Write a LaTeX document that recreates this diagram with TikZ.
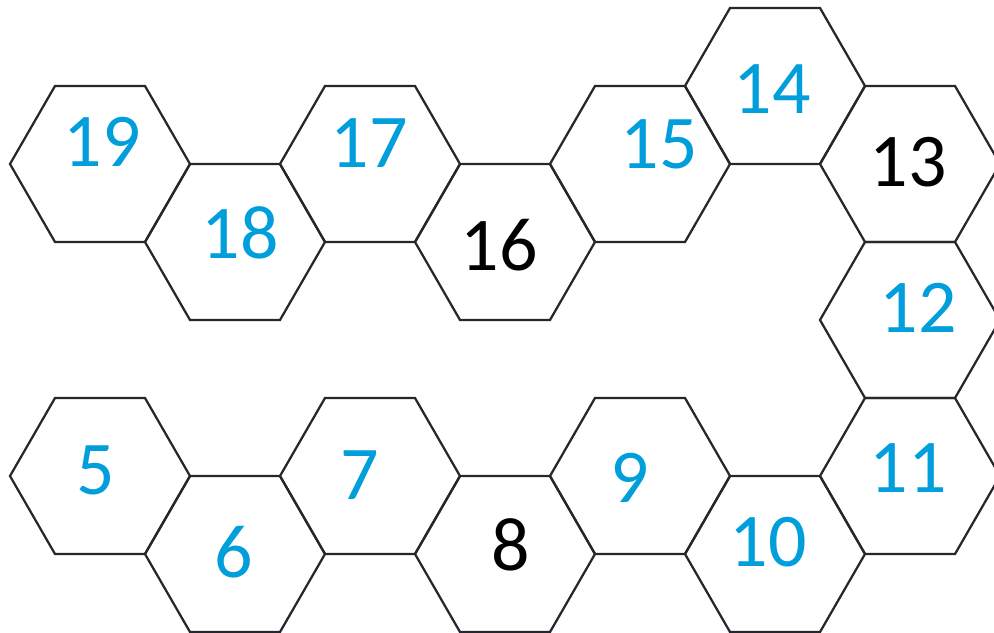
\documentclass[tikz,border=0pt]{standalone}
\usepackage{fontspec}
\setmainfont{Carlito}
\usetikzlibrary{calc}

\definecolor{numblue}{RGB}{0,158,219}
\definecolor{edgegray}{RGB}{38,38,44}

\tikzset{
  cell/.style = {line width=1.6pt, edgegray, line join=miter},
  num/.style = {inner sep=0pt, outer sep=0pt, text=numblue, font=\fontsize{54}{60}\selectfont},
  numk/.style = {num, text=black}
}

\begin{document}
\begin{tikzpicture}[x=0.25mm, y=-0.25mm]

\clip (0,0) rectangle (994,633);

% upper row
\draw [cell] (100,164) ++(-90,0) -- ++(45,-78) -- ++(90,0) -- ++(45,78) -- ++(-45,78) -- ++(-90,0) -- cycle;
\node[num] (l19) at (102,142) {19};

\draw [cell] (235,242) ++(-90,0) -- ++(45,-78) -- ++(90,0) -- ++(45,78) -- ++(-45,78) -- ++(-90,0) -- cycle;
\node[num] (l18) at (240,233) {18};

\draw [cell] (370,164) ++(-90,0) -- ++(45,-78) -- ++(90,0) -- ++(45,78) -- ++(-45,78) -- ++(-90,0) -- cycle;
\node[num] (l17) at (369,143) {17};

\draw [cell] (505,242) ++(-90,0) -- ++(45,-78) -- ++(90,0) -- ++(45,78) -- ++(-45,78) -- ++(-90,0) -- cycle;
\node[numk] (l16) at (499,245) {16};

\draw [cell] (640,164) ++(-90,0) -- ++(45,-78) -- ++(90,0) -- ++(45,78) -- ++(-45,78) -- ++(-90,0) -- cycle;
\node[num] (l15) at (659,144) {15};

\draw [cell] (775,86) ++(-90,0) -- ++(45,-78) -- ++(90,0) -- ++(45,78) -- ++(-45,78) -- ++(-90,0) -- cycle;
\node[num] (l14) at (772,89) {14};

% right column
\draw [cell] (910,164) ++(-90,0) -- ++(45,-78) -- ++(90,0) -- ++(45,78) -- ++(-45,78) -- ++(-90,0) -- cycle;
\node[numk] (l13) at (908,162) {13};

\draw [cell] (910,320) ++(-90,0) -- ++(45,-78) -- ++(90,0) -- ++(45,78) -- ++(-45,78) -- ++(-90,0) -- cycle;
\node[num] (l12) at (918,308) {12};

\draw [cell] (910,476) ++(-90,0) -- ++(45,-78) -- ++(90,0) -- ++(45,78) -- ++(-45,78) -- ++(-90,0) -- cycle;
\node[num] (l11) at (908,468) {11};

% lower row
\draw [cell] (775,554) ++(-90,0) -- ++(45,-78) -- ++(90,0) -- ++(45,78) -- ++(-45,78) -- ++(-90,0) -- cycle;
\node[num] (l10) at (768,542) {10};

\draw [cell] (640,476) ++(-90,0) -- ++(45,-78) -- ++(90,0) -- ++(45,78) -- ++(-45,78) -- ++(-90,0) -- cycle;
\node[num] (l9) at (630,478) {9};

\draw [cell] (505,554) ++(-90,0) -- ++(45,-78) -- ++(90,0) -- ++(45,78) -- ++(-45,78) -- ++(-90,0) -- cycle;
\node[numk] (l8) at (511,545) {8};

\draw [cell] (370,476) ++(-90,0) -- ++(45,-78) -- ++(90,0) -- ++(45,78) -- ++(-45,78) -- ++(-90,0) -- cycle;
\node[num] (l7) at (360,475) {7};

\draw [cell] (235,554) ++(-90,0) -- ++(45,-78) -- ++(90,0) -- ++(45,78) -- ++(-45,78) -- ++(-90,0) -- cycle;
\node[num] (l6) at (234,552) {6};

\draw [cell] (100,476) ++(-90,0) -- ++(45,-78) -- ++(90,0) -- ++(45,78) -- ++(-45,78) -- ++(-90,0) -- cycle;
\node[num] (l5) at (96,470) {5};

\end{tikzpicture}
\end{document}
